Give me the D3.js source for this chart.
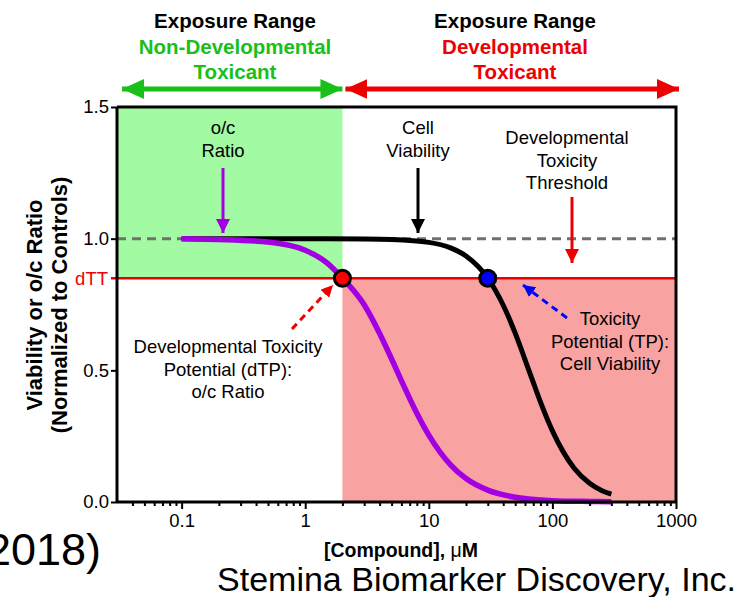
<!DOCTYPE html>
<html>
<head>
<meta charset="utf-8">
<script src="https://cdn.jsdelivr.net/npm/d3@7"></script>
<style>
  html, body { margin: 0; padding: 0; background: #fff; }
  svg { display: block; }
  text { font-family: "Liberation Sans", Arial, sans-serif; }
</style>
</head>
<body>
<svg id="chart" width="738" height="597"></svg>
<script>
// Concentration (µM) and normalized response for the two dose-response curves
const ocConc   = [0.1, 0.2, 0.5, 1, 1.5, 2, 3, 4, 5, 6, 8, 10, 15, 20, 30, 50, 100, 200, 300];
const ocRatio  = [1.0, 0.997, 0.987, 0.956, 0.908, 0.85, 0.749, 0.64, 0.543, 0.461, 0.337, 0.254, 0.141, 0.089, 0.045, 0.018, 0.005, 0.002, 0.001];
const cvConc   = [0.1, 1, 3, 5, 10, 15, 20, 30, 40, 50, 60, 70, 80, 100, 150, 200, 250, 300];
const cvValue  = [1.0, 1.0, 0.999, 0.997, 0.986, 0.965, 0.934, 0.85, 0.747, 0.641, 0.541, 0.454, 0.38, 0.27, 0.128, 0.071, 0.044, 0.03];

// Reference levels and thresholds
const controlLevel = 1.0;
const dTT = 0.85;            // developmental toxicity threshold
const dTPConc = 2;           // o/c ratio crosses dTT
const TPConc = 30;           // cell viability crosses dTT
const xDomain = [0.03, 1000];
const yDomain = [0, 1.5];

// Tick labels
const xTickValues = [0.1, 1, 10, 100, 1000];
const xTickLabels = ["0.1", "1", "10", "100", "1000"];
const yTickValues = [0, 0.5, 1.0, 1.5];
const yTickLabels = ["0.0", "0.5", "1.0", "1.5"];

const svg = d3.select("#chart");
const x = d3.scaleLog().domain(xDomain).range([117, 676]);
const y = d3.scaleLinear().domain(yDomain).range([502, 107]);

const GREEN_FILL = "#a2faa2", RED_FILL = "#f9a2a2";
const GREEN = "#19c019", RED = "#ee0000", PURPLE = "#a200e2", BLUE = "#0000ff";
const ANN = 18.5;            // annotation font size
const TICK = 18.5;           // tick label font size

// Defs: arrowheads
const defs = svg.append("defs");
function marker(id, color, w, h) {
  defs.append("marker").attr("id", id)
    .attr("viewBox", `0 0 ${w} ${h}`).attr("refX", w).attr("refY", h / 2)
    .attr("markerWidth", w).attr("markerHeight", h).attr("markerUnits", "userSpaceOnUse")
    .attr("orient", "auto-start-reverse")
    .append("path").attr("d", `M0,0 L${w},${h/2} L0,${h} Z`).attr("fill", color);
}
marker("hGreen", GREEN, 22, 20);
marker("hRed", RED, 22, 20);
marker("dPurple", PURPLE, 14, 14);
marker("dBlack", "#000", 14, 14);
marker("dRed", RED, 14, 14);
marker("dRedS", RED, 12, 12);
marker("dBlue", BLUE, 12, 12);

// Shaded exposure zones
svg.append("rect")
  .attr("x", x(xDomain[0])).attr("y", y(yDomain[1]))
  .attr("width", x(dTPConc) - x(xDomain[0])).attr("height", y(dTT) - y(yDomain[1]))
  .attr("fill", GREEN_FILL);
svg.append("rect")
  .attr("x", x(dTPConc)).attr("y", y(dTT))
  .attr("width", x(xDomain[1]) - x(dTPConc)).attr("height", y(0) - y(dTT))
  .attr("fill", RED_FILL);

// Control level (dashed) and threshold line
svg.append("line")
  .attr("x1", x(xDomain[0])).attr("x2", x(xDomain[1]))
  .attr("y1", y(controlLevel)).attr("y2", y(controlLevel))
  .attr("stroke", "#707070").attr("stroke-width", 3).attr("stroke-dasharray", "9,6");
svg.append("line")
  .attr("x1", x(xDomain[0]) - 6).attr("x2", x(xDomain[1]))
  .attr("y1", y(dTT)).attr("y2", y(dTT))
  .attr("stroke", RED).attr("stroke-width", 2.5);

// Curves
const line = d3.line().x(d => x(d[0])).y(d => y(d[1])).curve(d3.curveMonotoneX);
svg.append("path").datum(d3.zip(cvConc, cvValue))
  .attr("d", line).attr("fill", "none").attr("stroke", "#000").attr("stroke-width", 5);
svg.append("path").datum(d3.zip(ocConc, ocRatio))
  .attr("d", line).attr("fill", "none").attr("stroke", PURPLE).attr("stroke-width", 5.5);

// Crossing points
svg.append("circle").attr("cx", x(dTPConc)).attr("cy", y(dTT)).attr("r", 8)
  .attr("fill", "#ff0000").attr("stroke", "#000").attr("stroke-width", 3);
svg.append("circle").attr("cx", x(TPConc)).attr("cy", y(dTT)).attr("r", 8)
  .attr("fill", BLUE).attr("stroke", "#000").attr("stroke-width", 3);

// Axes
const yAxis = svg.append("g").attr("transform", `translate(${x(xDomain[0])},0)`)
  .call(d3.axisLeft(y).tickValues(yTickValues).tickSize(6).tickPadding(2)
    .tickFormat((d, i) => yTickLabels[i]));
const minor = x.ticks().filter(v => !xTickValues.includes(v) && v > xDomain[0]);
svg.append("g").attr("transform", `translate(0,${y(0)})`)
  .call(d3.axisBottom(x).tickValues(minor).tickSize(4).tickFormat(""))
  .call(g => g.select(".domain").remove());
const xAxis = svg.append("g").attr("transform", `translate(0,${y(0)})`)
  .call(d3.axisBottom(x).tickValues(xTickValues).tickSize(7).tickPadding(5)
    .tickFormat((d, i) => xTickLabels[i]));
svg.selectAll("g.tick line").attr("stroke-width", 2);
svg.selectAll("path.domain").attr("stroke-width", 3);
svg.selectAll("g.tick text")
  .style("font-size", TICK + "px").style("font-family", "'Liberation Sans', Arial, sans-serif")
  .attr("fill", "#000");
yAxis.select(".domain").attr("d", `M-0,${y(yDomain[1])}V${y(0)}`);
xAxis.select(".domain").attr("d", `M${x(xDomain[0])},0H${x(xDomain[1])}`);

// Frame top and right
svg.append("path")
  .attr("d", `M${x(xDomain[0])},${y(yDomain[1])}H${x(xDomain[1])}V${y(0)}`)
  .attr("fill", "none").attr("stroke", "#000").attr("stroke-width", 3);

// dTT label
svg.append("text").attr("x", x(xDomain[0]) - 9).attr("y", y(dTT)).attr("dy", "0.35em")
  .attr("text-anchor", "end").style("font-size", TICK + "px").attr("fill", RED).text("dTT");

// Axis titles
const yTitle = svg.append("text").attr("transform", "translate(50,305) rotate(-90)")
  .attr("text-anchor", "middle").attr("font-size", 22).attr("font-weight", "bold");
yTitle.append("tspan").attr("x", 0).attr("dy", "-0.35em").text("Viability or o/c Ratio");
yTitle.append("tspan").attr("x", 0).attr("dy", "1.12em").text("(Normalized to Controls)");
const xTitle = svg.append("text").attr("x", 401).attr("y", 557)
  .attr("text-anchor", "middle").attr("font-size", 19.5);
xTitle.append("tspan").attr("font-weight", "bold").text("[Compound], ");
xTitle.append("tspan").text("μ");
xTitle.append("tspan").attr("font-weight", "bold").text("M");

// Header: exposure ranges
function block(cx, lines, y0, dy, size, weight) {
  lines.forEach((l, i) => svg.append("text").attr("x", cx).attr("y", y0 + i * dy)
    .attr("text-anchor", "middle").attr("font-size", size).attr("font-weight", weight)
    .attr("fill", l.color || "#000").text(l.t));
}
block(235, [{t: "Exposure Range"}, {t: "Non-Developmental", color: GREEN}, {t: "Toxicant", color: GREEN}], 28, 25.5, 20.5, "bold");
block(515, [{t: "Exposure Range"}, {t: "Developmental", color: RED}, {t: "Toxicant", color: RED}], 28, 25.5, 20.5, "bold");
svg.append("line").attr("x1", 122).attr("x2", x(dTPConc)).attr("y1", 89).attr("y2", 89)
  .attr("stroke", GREEN).attr("stroke-width", 5)
  .attr("marker-start", "url(#hGreen)").attr("marker-end", "url(#hGreen)");
svg.append("line").attr("x1", x(dTPConc) + 3).attr("x2", 679).attr("y1", 89).attr("y2", 89)
  .attr("stroke", RED).attr("stroke-width", 5)
  .attr("marker-start", "url(#hRed)").attr("marker-end", "url(#hRed)");

// In-plot annotations
block(223, [{t: "o/c"}, {t: "Ratio"}], 134, 23, ANN, "normal");
svg.append("line").attr("x1", 223).attr("x2", 223).attr("y1", 168).attr("y2", 233)
  .attr("stroke", PURPLE).attr("stroke-width", 3).attr("marker-end", "url(#dPurple)");
block(418, [{t: "Cell"}, {t: "Viability"}], 134, 23, ANN, "normal");
svg.append("line").attr("x1", 418).attr("x2", 418).attr("y1", 168).attr("y2", 233)
  .attr("stroke", "#000").attr("stroke-width", 3).attr("marker-end", "url(#dBlack)");
block(567, [{t: "Developmental"}, {t: "Toxicity"}, {t: "Threshold"}], 144, 22.5, ANN, "normal");
svg.append("line").attr("x1", 572).attr("x2", 572).attr("y1", 197).attr("y2", 263)
  .attr("stroke", RED).attr("stroke-width", 3).attr("marker-end", "url(#dRed)");

block(228, [{t: "Developmental Toxicity"}, {t: "Potential (dTP):"}, {t: "o/c Ratio"}], 353, 22.5, ANN, "normal");
svg.append("line").attr("x1", 292).attr("y1", 329).attr("x2", 333).attr("y2", 285)
  .attr("stroke", RED).attr("stroke-width", 3).attr("stroke-dasharray", "7,5")
  .attr("marker-end", "url(#dRedS)");
block(610, [{t: "Toxicity"}, {t: "Potential (TP):"}, {t: "Cell Viability"}], 325, 22.5, ANN, "normal");
svg.append("line").attr("x1", 567).attr("y1", 318).attr("x2", 523).attr("y2", 285)
  .attr("stroke", BLUE).attr("stroke-width", 3).attr("stroke-dasharray", "7,5")
  .attr("marker-end", "url(#dBlue)");

// Citation and credit
svg.append("text").attr("x", 101).attr("y", 565).attr("text-anchor", "end")
  .attr("font-family", "Carlito, Lato, 'Open Sans', sans-serif").attr("font-size", 45).text("2018)");
svg.append("text").attr("x", 736).attr("y", 591).attr("text-anchor", "end")
  .attr("font-family", "Carlito, Lato, 'Open Sans', sans-serif").attr("font-size", 34)
  .text("Stemina Biomarker Discovery, Inc.");
</script>
</body>
</html>
